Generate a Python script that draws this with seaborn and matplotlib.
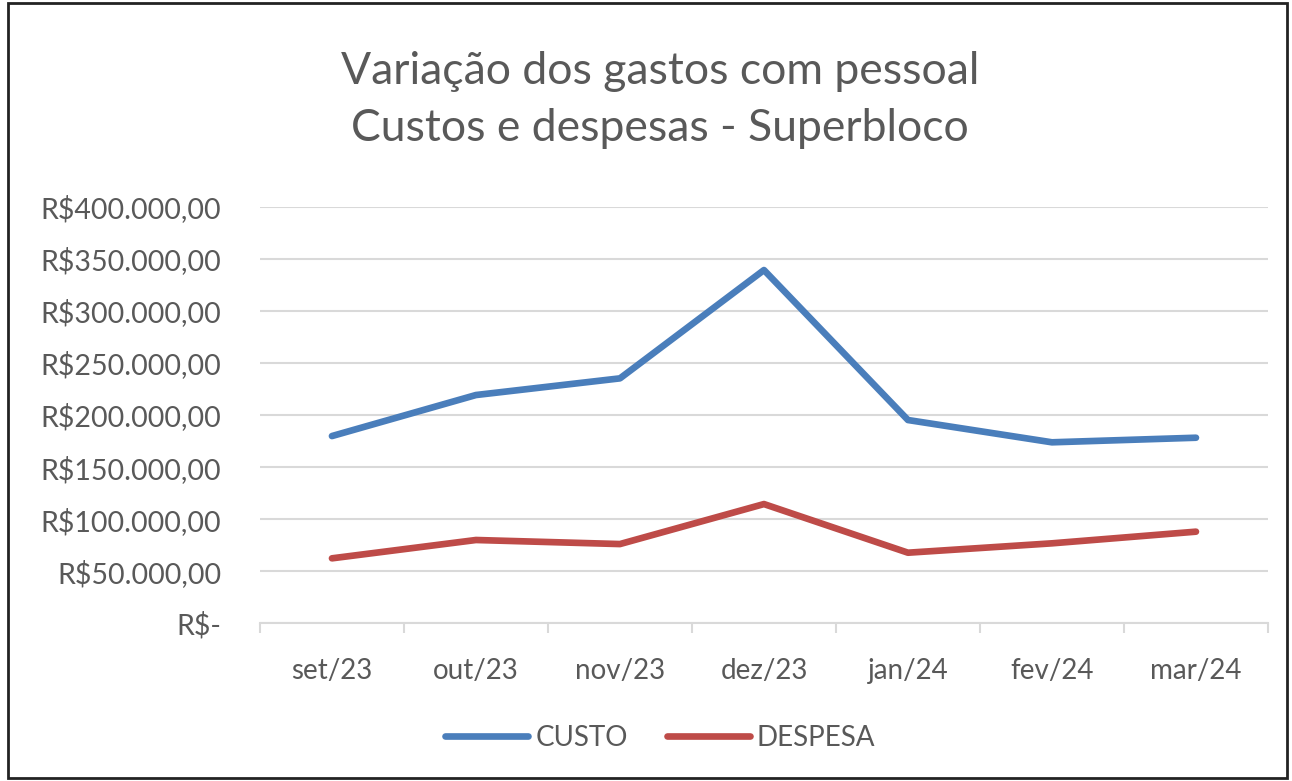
import pandas as pd
import seaborn as sns
import matplotlib.pyplot as plt
from matplotlib.ticker import FuncFormatter, FixedLocator
from matplotlib.patches import Rectangle

meses = ['set/23', 'out/23', 'nov/23', 'dez/23', 'jan/24', 'fev/24', 'mar/24']
custo = [179800, 219200, 235200, 339200, 195200, 173800, 178200]
despesa = [62400, 80000, 76100, 114500, 67800, 76800, 88000]

df = pd.DataFrame({'mes': meses * 2,
                   'valor': custo + despesa,
                   'tipo': ['CUSTO'] * len(meses) + ['DESPESA'] * len(meses)})

sns.set_theme(style='white')
plt.rcParams['font.family'] = ['Lato', 'DejaVu Sans']
cor_texto = '#595959'

fig = plt.figure(figsize=(12.92, 7.81), dpi=100)
ax = fig.add_axes([0.2012, 0.2019, 0.7802, 0.5334])

sns.lineplot(data=df, x='mes', y='valor', hue='tipo',
             palette={'CUSTO': '#4A7EBB', 'DESPESA': '#BE4B48'},
             linewidth=4.8, ax=ax, legend=True)

ax.set_xlim(-0.5, 6.5)
ax.set_ylim(0, 400000)
ax.set_yticks(range(0, 400001, 50000))


def reais(v, pos):
    if v == 0:
        return 'R$-'
    return 'R$' + f'{v:,.2f}'.replace(',', 'X').replace('.', ',').replace('X', '.')


ax.yaxis.set_major_formatter(FuncFormatter(reais))
ax.grid(axis='y', color='#D9D9D9', linewidth=1.5)
ax.set_axisbelow(True)
for s in ['top', 'right', 'left']:
    ax.spines[s].set_visible(False)
ax.spines['bottom'].set_color('#D9D9D9')
ax.spines['bottom'].set_linewidth(1.5)

ax.xaxis.set_minor_locator(FixedLocator([i - 0.5 for i in range(8)]))
ax.tick_params(axis='x', which='minor', bottom=True, length=7, width=1.5, color='#D9D9D9')
ax.tick_params(axis='x', which='major', bottom=False, pad=19, labelsize=20, labelcolor=cor_texto)
ax.tick_params(axis='y', length=0, pad=28, labelsize=20.5, labelcolor=cor_texto)
ax.set_xlabel('')
ax.set_ylabel('')

fig.text(0.511, 0.872, 'Variação dos gastos com pessoal\nCustos e despesas - Superbloco',
         ha='center', va='center', fontsize=32, color=cor_texto, linespacing=1.5)

ax.legend(loc='center', bbox_to_anchor=(0.511, 0.055), bbox_transform=fig.transFigure,
          ncol=2, frameon=False, fontsize=20, labelcolor=cor_texto,
          handlelength=3.0, columnspacing=1.4, handletextpad=0.25)

fig.patches.append(Rectangle((0.006, 0.004), 0.99, 0.992, transform=fig.transFigure,
                             fill=False, edgecolor='#222222', linewidth=2))

fig.savefig('out.png', dpi=100)
